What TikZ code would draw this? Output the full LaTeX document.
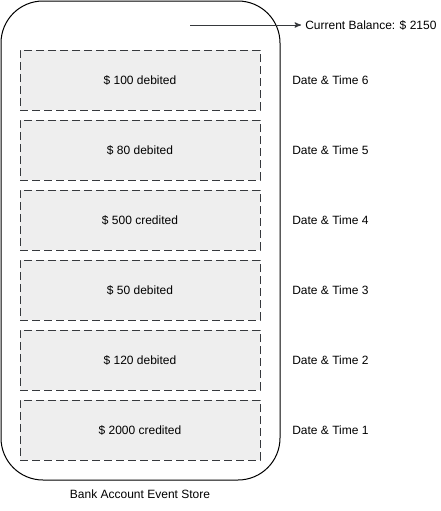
\documentclass[tikz,border=0pt]{standalone}
\usepackage{fontspec}
\setmainfont{Liberation Sans}
\usetikzlibrary{arrows}
\definecolor{eventfill}{HTML}{EEEEEE}
\definecolor{eventline}{HTML}{36393D}

\begin{document}
\begin{tikzpicture}[x=0.75pt,y=-0.75pt,>=stealth',font=\fontsize{9}{11}\selectfont,
        event/.style={draw=eventline,fill=eventfill,dash pattern=on 6pt off 3pt,
          minimum width=180pt,minimum height=45pt,inner sep=0pt},
        stamp/.style={anchor=west,inner sep=0pt}]

        \useasboundingbox (0,0) rectangle (441,511);

        \draw[rounded corners=31.5pt,line width=0.75pt] (1,1) rectangle (280,480);

        \node[event] at (140,80)  (ev6) {\$ 100 debited};
        \node[event] at (140,150) (ev5) {\$ 80 debited};
        \node[event] at (140,220) (ev4) {\$ 500 credited};
        \node[event] at (140,290) (ev3) {\$ 50 debited};
        \node[event] at (140,360) (ev2) {\$ 120 debited};
        \node[event] at (140,430) (ev1) {\$ 2000 credited};

        \node[stamp] at (292,80)  (t6) {Date \& Time 6};
        \node[stamp] at (292,150) (t5) {Date \& Time 5};
        \node[stamp] at (292,220) (t4) {Date \& Time 4};
        \node[stamp] at (292,290) (t3) {Date \& Time 3};
        \node[stamp] at (292,360) (t2) {Date \& Time 2};
        \node[stamp] at (292,430) (t1) {Date \& Time 1};

        \node[anchor=west,inner sep=0pt] at (305,25) (balance) {Current Balance: \$ 2150};
        \coordinate (head) at (190,25);
        \draw[->,line width=0.75pt,color=eventline] (head) -- ([xshift=-3pt]balance.west);

        \node at (140,494) (store) {Bank Account Event Store};

      \end{tikzpicture}
\end{document}
